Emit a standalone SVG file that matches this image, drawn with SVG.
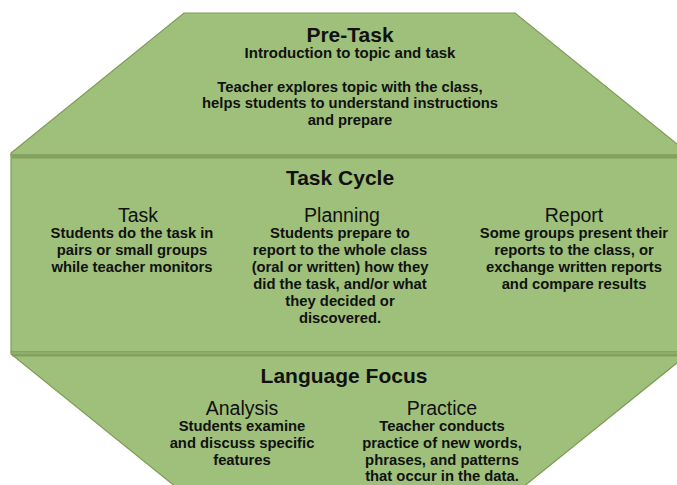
<svg xmlns="http://www.w3.org/2000/svg" width="677" height="485" viewBox="0 0 677 485">
<style>
.sec{fill:#9ec07a;stroke:#7d9c58;stroke-width:1.2}
.band{stroke:#7f9c5a;stroke-width:3;opacity:0.85}
text{font-family:"Liberation Sans",Arial,sans-serif;fill:#111;text-anchor:middle}
.t{font-size:21px;font-weight:bold}
.s{font-size:19.5px}
.b{font-size:14.8px;font-weight:bold}
.i{font-size:15px;font-weight:bold}
</style>
<rect width="677" height="485" fill="#fff"/>
<g id="pre-task">
<polygon class="sec" points="184,13 515,13 688,153 688,155 11,155 11,153"/>
<text class="t" x="350" y="42">Pre-Task</text>
<text class="i" x="350" y="58">Introduction to topic and task</text>
<text class="b" x="350" y="92">Teacher explores topic with the class,</text>
<text class="b" x="350" y="108">helps students to understand instructions</text>
<text class="b" x="350" y="125">and prepare</text>
</g>
<g id="task-cycle">
<rect class="sec" x="11" y="155" width="677" height="197"/>
<text class="t" x="340" y="185">Task Cycle</text>
<text class="s" x="138" y="222">Task</text>
<text class="b" x="132" y="238">Students do the task in</text>
<text class="b" x="132" y="255">pairs or small groups</text>
<text class="b" x="132" y="272">while teacher monitors</text>
<text class="s" x="342" y="222">Planning</text>
<text class="b" x="340" y="238">Students prepare to</text>
<text class="b" x="340" y="255">report to the whole class</text>
<text class="b" x="340" y="272">(oral or written) how they</text>
<text class="b" x="340" y="289">did the task, and/or what</text>
<text class="b" x="340" y="306">they decided or</text>
<text class="b" x="340" y="323">discovered.</text>
<text class="s" x="574" y="222">Report</text>
<text class="b" x="574" y="238">Some groups present their</text>
<text class="b" x="574" y="255">reports to the class, or</text>
<text class="b" x="574" y="272">exchange written reports</text>
<text class="b" x="574" y="289">and compare results</text>
</g>
<g id="language-focus">
<polygon class="sec" points="11,352 688,352 688,354 507,500 192,500 11,354"/>
<text class="t" x="344" y="383">Language Focus</text>
<text class="s" x="242" y="415">Analysis</text>
<text class="b" x="242" y="431">Students examine</text>
<text class="b" x="242" y="448">and discuss specific</text>
<text class="b" x="242" y="465">features</text>
<text class="s" x="442" y="415">Practice</text>
<text class="b" x="442" y="431">Teacher conducts</text>
<text class="b" x="442" y="448">practice of new words,</text>
<text class="b" x="442" y="465">phrases, and patterns</text>
<text class="b" x="442" y="481">that occur in the data.</text>
</g>
<g id="connectors">
<line class="band" x1="12" y1="157" x2="677" y2="157"/>
<line class="band" x1="12" y1="355" x2="677" y2="355"/>
</g>
</svg>
